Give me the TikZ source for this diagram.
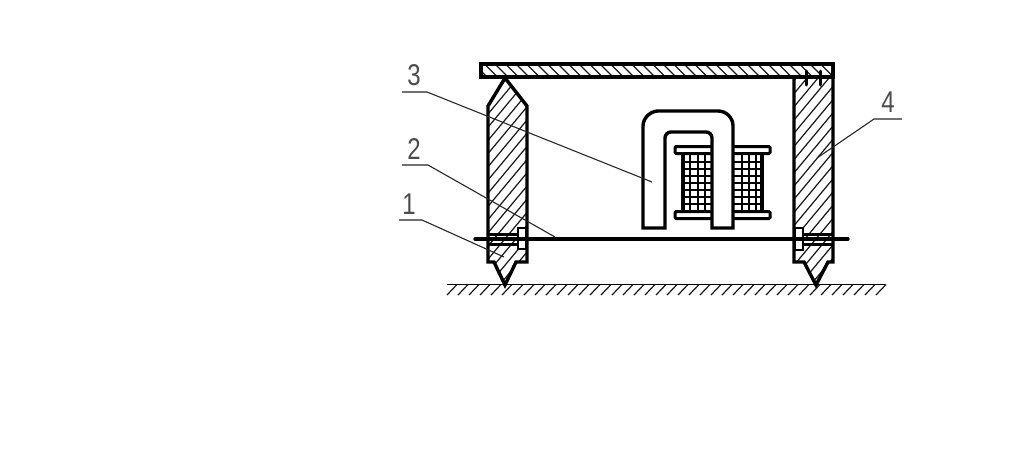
\documentclass[tikz,border=0pt]{standalone}
\usepackage{fontspec}
\setmainfont[FakeStretch=0.8]{Liberation Sans}
\tikzset{
  x=1pt,y=-1pt,
  heavy/.style={line width=3.4pt,line join=miter,draw=black},
  medium/.style={line width=2.6pt,draw=black},
  thin hatch/.style={line width=1.2pt,draw=black!90},
  leader/.style={line width=1.1pt,draw=black!85},
  digit/.style={font=\fontsize{30}{30}\selectfont,inner sep=0pt,text=black!70},
}
\begin{document}
\begin{tikzpicture}
\useasboundingbox (0,0) rectangle (1024,475);
\fill[white] (0,0) rectangle (1024,475);

% ground
\draw[line width=1.8pt] (447,284.5) -- (885,284.5);
\foreach \k in {447,458,...,877}{\draw[thin hatch] (\k,295) -- ++(10,-10.5);}

% left post hatch
\begin{scope}
\clip (505,78) -- (527,106) -- (527,262) -- (516,262) -- (505,285) -- (494,262) -- (488,262) -- (488,106) -- cycle;
\foreach \k in {300,311,...,860}{\draw[thin hatch] (\k,300) -- ++(250,-300);}
\end{scope}
% right post hatch
\begin{scope}
\clip (794,77) -- (833,77) -- (833,262) -- (828,262) -- (816,285) -- (804,262) -- (794,262) -- cycle;
\foreach \k in {600,611,...,1150}{\draw[thin hatch] (\k,300) -- ++(250,-300);}
\end{scope}
% plate hatch
\begin{scope}
\clip (481,64) rectangle (833,77);
\foreach \k in {470,480.5,...,840}{\draw[thin hatch] (\k,60) -- ++(20,20);}
\end{scope}

% left post outline
\draw[heavy] (488,262) -- (488,106) -- (505,78) -- (527,106) -- (527,262) -- (516,262) -- (505,285) -- (494,262) -- cycle;
% right post outline
\draw[heavy] (794,77) -- (794,262) -- (804,262) -- (816,285) -- (828,262) -- (833,262) -- (833,77);
% plate
\draw[heavy] (481,64) rectangle (833,77);
% pins
\draw[line width=3pt,line cap=round] (806,71) -- (806,85);
\draw[line width=3pt,line cap=round] (820,71) -- (820,85);

% left clamp
\fill[white] (518,228) rectangle (527,249);
\draw[medium] (518,228) rectangle (526,249);
\draw[line width=3.2pt] (488,234.5) -- (518,234.5);
\draw[line width=3.2pt] (488,244.5) -- (518,244.5);
% right clamp
\fill[white] (794,228) rectangle (803,250);
\draw[medium] (795,228) rectangle (803,250);
\draw[line width=3.2pt] (803,234.5) -- (833,234.5);
\draw[line width=3.2pt] (803,244.5) -- (833,244.5);
% blade
\draw[line width=3.4pt,line cap=round] (475,239) -- (848,239);

% coil
\begin{scope}
\clip (683,153) rectangle (762,211);
\foreach \k in {690,698,705,742,749,756}{\draw[line width=1.1pt] (\k,153) -- (\k,211);}
\foreach \k in {162,169,...,205}{\draw[line width=1.1pt] (683,\k) -- (762,\k);}
\end{scope}
\draw[heavy] (683,153) -- (683,211);
\draw[heavy] (762,153) -- (762,211);
\draw[medium,line width=3pt,rounded corners=1pt] (675,146.5) rectangle (770,153.5);
\draw[medium,line width=3pt,rounded corners=1pt] (675,211.5) rectangle (770,218.5);

% magnet
\filldraw[heavy,fill=white] (643,228) -- (643,126) .. controls (643,117.7) and (650.7,111) .. (658,111) -- (718,111) .. controls (726.3,111) and (733,117.7) .. (733,126) -- (733,228) -- (712,228) -- (712,138) .. controls (712,134.7) and (709.3,132) .. (706,132) -- (671,132) .. controls (667.7,132) and (665,134.7) .. (665,138) -- (665,228) -- cycle;

% leaders
\coordinate (e3) at (652,182);
\coordinate (e2) at (555,237);
\coordinate (e1) at (504,257);
\coordinate (e4) at (817,158);
\coordinate (k3) at (427,92);
\coordinate (k2) at (428,165);
\coordinate (k1) at (422,220);
\coordinate (k4) at (874,119);
\draw[leader] (402,92) -- (k3) -- (e3);
\draw[leader] (402,165) -- (k2) -- (e2);
\draw[leader] (399,220) -- (k1) -- (e1);
\draw[leader] (902,119) -- (k4) -- (e4);
\node[digit] (n3) at (414,75) {3};
\node[digit] (n2) at (414,149) {2};
\node[digit] (n1) at (409,204) {1};
\node[digit] (n4) at (888,102) {4};
\end{tikzpicture}
\end{document}
